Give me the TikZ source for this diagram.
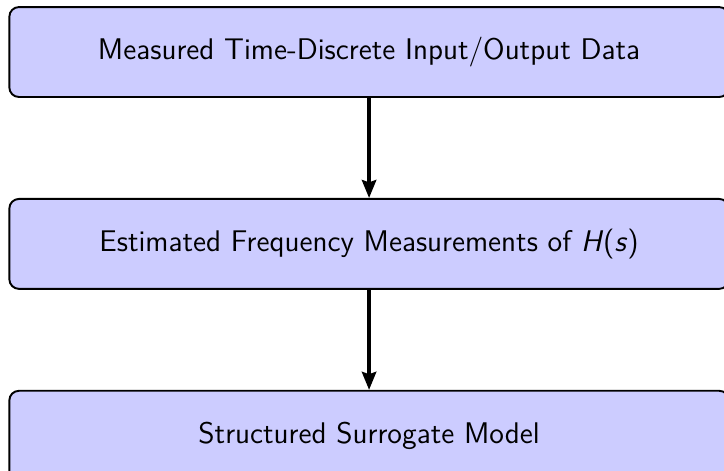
\documentclass[tikz,border=0pt]{standalone}
\usepackage{amsmath}
\usepackage{tikz}
\usetikzlibrary{positioning,arrows.meta}
\renewcommand{\familydefault}{\sfdefault}
\tikzset{etape/.style={
    rectangle,
    rounded corners,
    thick,
    draw=black,
    fill=blue!20,
    font=\fontsize{12.45}{15}\selectfont,
    minimum width=300pt,
    minimum height=37.5pt}}
\tikzset{fleche/.style={
    -{Stealth[length=7.5pt,width=6pt,inset=1pt]},
    line width=1.4pt}}

\begin{document}
\begin{tikzpicture}[node distance=41.7pt]
  \useasboundingbox (-153.9pt,21.7pt) rectangle (148pt,-174.3pt);

\node[etape] (mesures) at (0,0) {Measured Time-Discrete Input/Output Data};

\node[etape,
  below=of mesures] (freq) {Estimated Frequency Measurements of \textit{H}(\textit{s})};

\node[etape,
  below=of freq] (modele) {Structured Surrogate Model};

  \draw[fleche] (mesures) -- (freq);
  \draw[fleche] (freq) -- (modele);
\end{tikzpicture}
\end{document}
